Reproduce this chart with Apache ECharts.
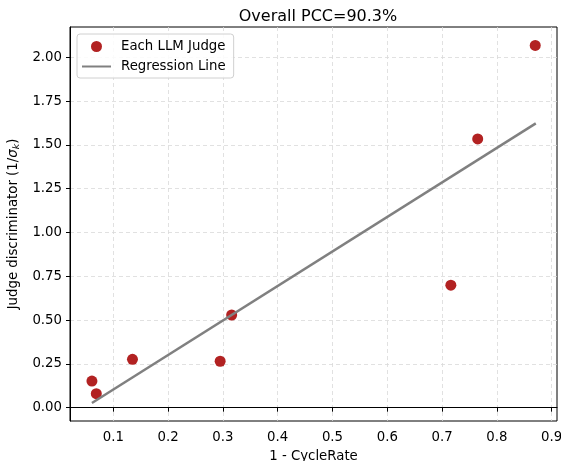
<!DOCTYPE html>
<html>
<head>
<meta charset="utf-8">
<script src="https://cdn.jsdelivr.net/npm/echarts@6/dist/echarts.min.js"></script>
<style>html,body{margin:0;padding:0;background:#fff;}#c{width:561px;height:461px;}</style>
</head>
<body>
<div id="c"></div>
<script>
const judgeX = [0.061, 0.069, 0.135, 0.295, 0.316, 0.716, 0.765, 0.870];
const judgeY = [0.152, 0.080, 0.276, 0.265, 0.529, 0.699, 1.534, 2.068];
const regX = [0.061, 0.871];
const regY = [0.027, 1.623];
const xTicks = [0.1, 0.2, 0.3, 0.4, 0.5, 0.6, 0.7, 0.8, 0.9];
const yTicks = [0, 0.25, 0.5, 0.75, 1.0, 1.25, 1.5, 1.75, 2.0];

const FONT = 'DejaVu Sans';
const chart = echarts.init(document.getElementById('c'), null, {renderer: 'canvas'});
const gridLine = {show: true, lineStyle: {color: '#d9d9d9', type: [4, 3], width: 0.8}};
chart.setOption({
  animation: false,
  backgroundColor: '#fff',
  textStyle: {fontFamily: FONT},
  title: {
    text: 'Overall PCC=90.3%',
    left: 313, top: 4, textAlign: 'center',
    textStyle: {fontFamily: FONT, fontSize: 16, fontWeight: 'normal', color: '#000'}
  },
  grid: {left: 70, right: 4, top: 27, bottom: 40, show: true, borderColor: '#000', borderWidth: 1,
         backgroundColor: 'transparent', containLabel: false, outerBoundsMode: 'none'},
  legend: {
    orient: 'vertical', left: 77, top: 34,
    padding: [6, 8, 5, 4], itemGap: 7,
    itemWidth: 29, itemHeight: 11,
    backgroundColor: 'rgba(255,255,255,0.85)', borderColor: '#d0d0d0', borderWidth: 1, borderRadius: 3,
    textStyle: {fontFamily: FONT, fontSize: 13.3, color: '#000', padding: [0, 0, 0, 5]},
    data: [
      {name: 'Each LLM Judge', icon: 'circle'},
      {name: 'Regression Line', itemStyle: {opacity: 0}}
    ]
  },
  xAxis: {
    type: 'value', min: 0.021, max: 0.9097,
    name: '1 - CycleRate', nameLocation: 'middle', nameGap: 29,
    nameTextStyle: {fontFamily: FONT, fontSize: 13.3, color: '#000'},
    axisLine: {show: true, lineStyle: {color: '#000', width: 1}},
    axisTick: {show: true, length: 4, lineStyle: {color: '#000'}, customValues: xTicks},
    axisLabel: {customValues: xTicks, margin: 10, fontFamily: FONT, fontSize: 13.3, color: '#000', formatter: v => v.toFixed(1)},
    splitLine: gridLine
  },
  yAxis: {
    type: 'value', min: -0.076, max: 2.173,
    name: 'Judge discriminator (1/{s|σ}{k|k})', nameLocation: 'middle', nameGap: 43,
    nameTextStyle: {fontFamily: FONT, fontSize: 13.3, color: '#000',
      rich: {s: {fontFamily: FONT, fontSize: 13.3, fontStyle: 'italic', color: '#000'},
             k: {fontFamily: FONT, fontSize: 9.5, fontStyle: 'italic', color: '#000', verticalAlign: 'bottom', padding: [6, 0, 0, 0]}}},
    axisLine: {show: true, lineStyle: {color: '#000', width: 1}},
    axisTick: {show: true, length: 4, lineStyle: {color: '#000'}, customValues: yTicks},
    axisLabel: {customValues: yTicks, margin: 8, fontFamily: FONT, fontSize: 13.3, color: '#000', formatter: v => v.toFixed(2)},
    splitLine: gridLine
  },
  series: [
    {
      name: 'Each LLM Judge', type: 'scatter', symbol: 'circle', symbolSize: 11, z: 2,
      itemStyle: {color: '#b22222', opacity: 1},
      data: judgeX.map((x, i) => [x, judgeY[i]])
    },
    {
      name: 'Regression Line', type: 'line', showSymbol: false, symbol: 'none', z: 3,
      lineStyle: {color: '#808080', width: 2.5},
      itemStyle: {color: '#808080'},
      data: regX.map((x, i) => [x, regY[i]])
    }
  ]
});
</script>
</body>
</html>
